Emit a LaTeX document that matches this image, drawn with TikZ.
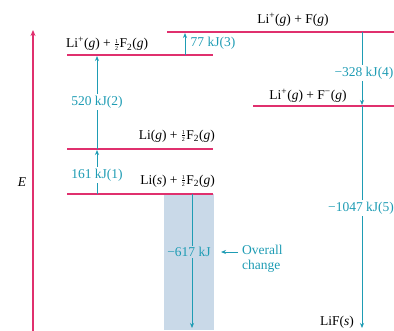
\documentclass[tikz,border=0pt]{standalone}
\usepackage{fontspec}
\setmainfont{Liberation Serif}
\usetikzlibrary{arrows.meta}
\definecolor{mag}{HTML}{E0306E}
\definecolor{tealc}{HTML}{1E9CB4}
\definecolor{shadec}{HTML}{C9D9E8}
\newcommand{\tinyd}[1]{{\fontsize{6}{6}\selectfont #1}}
\newcommand{\hf}{\kern0.8pt\makebox[3.4pt]{\rlap{\raisebox{4.7pt}{\tinyd{1}}}\rlap{\rule[3.4pt]{3.4pt}{0.45pt}}\raisebox{-2.7pt}{\tinyd{2}}}\kern1.2pt}
\newcommand{\gi}{(\textit{g})}
\tikzset{
  lvl/.style={draw=mag, line width=1.8pt},
  step arrow/.style={draw=tealc, line width=0.9pt, -{Stealth[length=5pt,width=4pt]}},
  txt/.style={inner sep=0pt, text=black},
  val/.style={inner sep=1.5pt, text=tealc, fill=white},
}
\begin{document}
\begin{tikzpicture}[x=1pt, y=-1pt, font=\fontsize{13.5}{15}\selectfont]
\useasboundingbox (0,0) rectangle (394,330);
% shaded overall band
\fill[shadec] (164,194) rectangle (214,330);
% level coordinates
\coordinate (l1a) at (67,194); \coordinate (l1b) at (213,194);
\coordinate (l2a) at (67,149); \coordinate (l2b) at (213,149);
\coordinate (l3a) at (67,55);  \coordinate (l3b) at (213,55);
\coordinate (l4a) at (167,32); \coordinate (l4b) at (394,32);
\coordinate (l5a) at (253,106); \coordinate (l5b) at (394,106);
\draw[lvl] (l1a) -- (l1b);
\draw[lvl] (l2a) -- (l2b);
\draw[lvl] (l3a) -- (l3b);
\draw[lvl] (l4a) -- (l4b);
\draw[lvl] (l5a) -- (l5b);
% energy axis
\coordinate (ebot) at (33,331); \coordinate (etop) at (33,30);
\draw[draw=mag, line width=1.3pt, -{Stealth[length=6pt,width=5pt]}] (ebot) -- (etop);
\node[txt, font=\fontsize{13.5}{15}\selectfont\itshape] (E) at (22,182) {E};
% level labels
\node[txt, anchor=west] (t3) at (66,44) {Li\textsuperscript{+}\gi{} + \hf F\textsubscript{2}\gi};
\node[txt] (t4) at (293,20) {Li\textsuperscript{+}\gi{} + F\gi};
\node[txt] (t5) at (308,96) {Li\textsuperscript{+}\gi{} + F\textsuperscript{\textminus}\gi};
\node[txt, anchor=east] (t2) at (215,136) {Li\gi{} + \hf F\textsubscript{2}\gi};
\node[txt, anchor=east] (t1) at (215,181) {Li(\textit{s}) + \hf F\textsubscript{2}\gi};
\node[txt, anchor=east] (t6) at (354,322) {LiF(\textit{s})};
% step arrows
\coordinate (a1s) at (97,194); \coordinate (a1e) at (97,150);
\draw[step arrow] (a1s) -- (a1e);
\node[val] (v1) at (97,175) {161 kJ(1)};
\coordinate (a2s) at (97,149); \coordinate (a2e) at (97,56);
\draw[step arrow] (a2s) -- (a2e);
\node[val] (v2) at (97,102) {520 kJ(2)};
\coordinate (a3s) at (185,55); \coordinate (a3e) at (185,33);
\draw[step arrow] (a3s) -- (a3e);
\node[val, fill=none, anchor=west] (v3) at (189,43) {77 kJ(3)};
\coordinate (a4s) at (362,32); \coordinate (a4e) at (362,105);
\draw[step arrow] (a4s) -- (a4e);
\node[val] (v4) at (364,73) {\textminus328 kJ(4)};
\coordinate (a5s) at (362,106); \coordinate (a5e) at (362,328);
\draw[step arrow] (a5s) -- (a5e);
\node[val] (v5) at (361,208) {\textminus1047 kJ(5)};
\coordinate (a6s) at (192,194); \coordinate (a6e) at (192,328);
\draw[step arrow] (a6s) -- (a6e);
\node[val, fill=shadec] (v6) at (189,252) {\textminus617 kJ};
% overall change
\node[txt, text=tealc, anchor=north west, align=left] (ov) at (242,245) {Overall\\change};
\coordinate (ovs) at (238,252);
\coordinate (ove) at (221,252);
\draw[draw=tealc, line width=0.9pt, -{Stealth[length=5pt,width=4pt]}] (ovs) -- (ove);
\end{tikzpicture}
\end{document}
